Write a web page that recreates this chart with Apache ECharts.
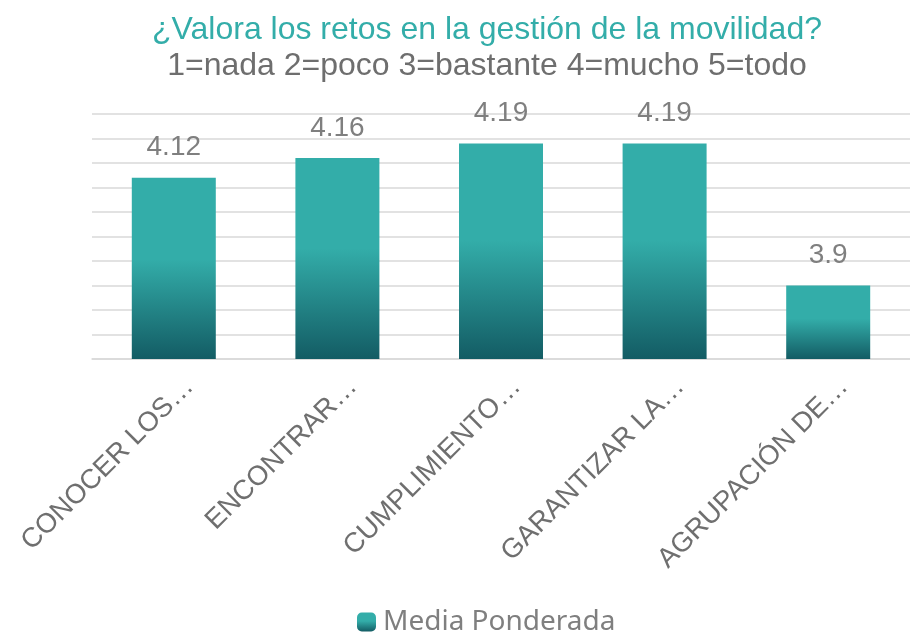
<!DOCTYPE html>
<html>
<head>
<meta charset="utf-8">
<script src="https://cdn.jsdelivr.net/npm/echarts@6/dist/echarts.min.js"></script>
<style>html,body{margin:0;padding:0;background:#fff}#c{width:910px;height:635px}</style>
</head>
<body>
<div id="c"></div>
<script>
const categories = ["CONOCER LOS…", "ENCONTRAR…", "CUMPLIMIENTO…", "GARANTIZAR LA…", "AGRUPACIÓN DE…"];
const mediaPonderada = [4.12, 4.16, 4.19, 4.19, 3.9];
const seriesName = "Media Ponderada";
const titleText = "¿Valora los retos en la gestión de la movilidad?";
const subtitleText = "1=nada 2=poco 3=bastante 4=mucho 5=todo";

const chart = echarts.init(document.getElementById('c'), null, {renderer: 'canvas'});
const grad = new echarts.graphic.LinearGradient(0, 0, 0, 1, [
  {offset: 0, color: '#33ADA9'},
  {offset: 0.45, color: '#33ADA9'},
  {offset: 1, color: '#135C64'}
]);
chart.setOption({
  animation: false,
  backgroundColor: '#fff',
  title: {
    text: titleText,
    subtext: subtitleText,
    left: 482, textAlign: 'center', top: 8,
    itemGap: 2,
    textStyle: {color: '#33ADA9', fontSize: 32, fontWeight: 'normal', fontFamily: 'Liberation Sans', lineHeight: 34},
    subtextStyle: {color: '#6e6e6e', fontSize: 32, fontFamily: 'Liberation Sans', lineHeight: 34}
  },
  legend: {
    bottom: -6, left: 352,
    itemWidth: 19, itemHeight: 19, itemGap: 10,
    textStyle: {color: '#7f7f7f', fontSize: 28, fontFamily: 'Noto Sans', padding: [0, 0, 0, 2]},
    data: [seriesName]
  },
  grid: {left: 92, right: -20, top: 114, bottom: 276, containLabel: false},
  xAxis: {
    type: 'category', data: categories,
    axisTick: {show: false},
    axisLine: {show: true, lineStyle: {color: '#d9d9d9', width: 1.5}},
    axisLabel: {rotate: 45, interval: 0, margin: 8, verticalAlign: 'top', padding: [8, 0, 0, 0], color: '#6f6f6f', fontSize: 27.5, fontFamily: 'Liberation Sans'}
  },
  yAxis: {
    type: 'value', min: 3.75, max: 4.25, interval: 0.05,
    axisLabel: {show: false}, axisLine: {show: false}, axisTick: {show: false},
    splitLine: {lineStyle: {color: '#d9d9d9', width: 1.5}}
  },
  series: [{
    name: seriesName, type: 'bar', data: mediaPonderada,
    barWidth: 84,
    itemStyle: {color: grad},
    label: {show: true, position: 'top', distance: 16, color: '#7f7f7f', fontSize: 28, fontFamily: 'Liberation Sans'}
  }]
});
</script>
</body>
</html>
